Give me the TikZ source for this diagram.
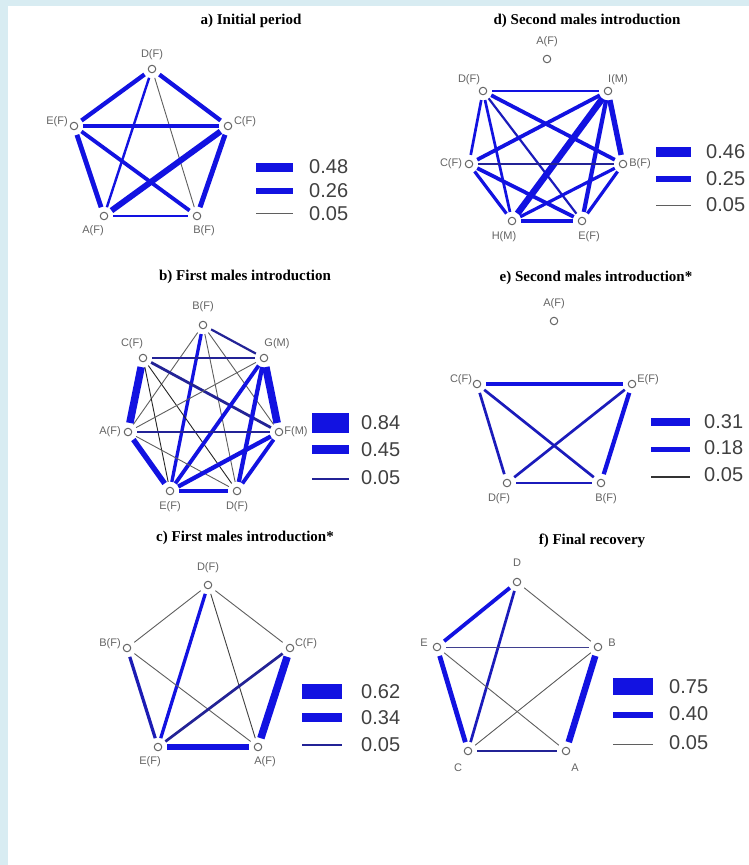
\documentclass[tikz,border=0pt]{standalone}
\usepackage{fontspec}
\setmainfont{Liberation Serif}
\setsansfont{Liberation Sans}
\definecolor{bgblue}{RGB}{216,236,242}
\definecolor{eblue}{RGB}{18,18,225}
\definecolor{navy}{RGB}{35,35,150}
\definecolor{tgray}{RGB}{95,95,95}
\definecolor{lgray}{RGB}{100,100,100}
\begin{document}
\begin{tikzpicture}[x=1pt,y=-1pt,
  vtx/.style={circle,draw=lgray,fill=white,line width=1pt,minimum size=7.5pt,inner sep=0pt},
  lab/.style={font=\sffamily\fontsize{11}{11}\selectfont,text=lgray,inner sep=0pt},
  ttl/.style={font=\bfseries\fontsize{15}{16}\selectfont,inner sep=0pt},
  num/.style={font=\sffamily\fontsize{20}{20}\selectfont,text=black!75,anchor=west,inner sep=0pt},
  ed/.style={draw=eblue,shorten >=5pt,shorten <=5pt},
  nv/.style={draw=navy,shorten >=5pt,shorten <=5pt},
  th/.style={draw=tgray,line width=0.9pt,shorten >=5pt,shorten <=5pt},
  bar/.style={fill=eblue,draw=none},
  thbar/.style={draw=tgray,line width=1pt},
  nvbar/.style={draw=navy,line width=1.8pt}]
\useasboundingbox (0,0) rectangle (749,865);
\fill[bgblue] (0,0) rectangle (749,865);
\fill[white] (8,6) rectangle (749,865);

% ===== a) Initial period =====
\node[ttl] (ta) at (251,21) {a) Initial period};
\node[vtx] (aD) at (152,69) {};
\node[vtx] (aE) at (74,126) {};
\node[vtx] (aC) at (228,126) {};
\node[vtx] (aA) at (104,216) {};
\node[vtx] (aB) at (197,216) {};
\node[lab] (laD) at (152,55) {D(F)};
\node[lab] (laE) at (57,122) {E(F)};
\node[lab] (laC) at (245,122) {C(F)};
\node[lab] (laA) at (93,231) {A(F)};
\node[lab] (laB) at (204,231) {B(F)};
\draw[ed,line width=4.3pt] (aD) -- (aE);
\draw[ed,line width=4.3pt] (aD) -- (aC);
\draw[ed,line width=2.4pt] (aD) -- (aA);
\draw[th] (aD) -- (aB);
\draw[ed,line width=4.3pt] (aE) -- (aC);
\draw[ed,line width=4.8pt] (aE) -- (aA);
\draw[ed,line width=3.8pt] (aE) -- (aB);
\draw[ed,line width=6pt] (aC) -- (aA);
\draw[ed,line width=5pt] (aC) -- (aB);
\draw[ed,line width=2.7pt] (aA) -- (aB);
\fill[bar] (256,162.5) rectangle (293,171.5);
\fill[bar] (256,188) rectangle (293,194);
\draw[thbar] (256,213) -- (293,213);
\node[num] (na1) at (309,167) {0.48};
\node[num] (na2) at (309,191) {0.26};
\node[num] (na3) at (309,214) {0.05};

% ===== b) First males introduction =====
\node[ttl] (tb) at (245,277) {b) First males introduction};
\node[vtx] (bB) at (203,325) {};
\node[vtx] (bC) at (143,358) {};
\node[vtx] (bG) at (264,358) {};
\node[vtx] (bA) at (128,432) {};
\node[vtx] (bF) at (279,432) {};
\node[vtx] (bE) at (170,491) {};
\node[vtx] (bD) at (237,491) {};
\node[lab] (lbB) at (203,307) {B(F)};
\node[lab] (lbC) at (132,344) {C(F)};
\node[lab] (lbG) at (277,344) {G(M)};
\node[lab] (lbA) at (110,432) {A(F)};
\node[lab] (lbF) at (296,432) {F(M)};
\node[lab] (lbE) at (170,507) {E(F)};
\node[lab] (lbD) at (237,507) {D(F)};
\draw[nv,line width=2.2pt] (bB) -- (bG);
\draw[ed,line width=3.3pt] (bB) -- (bE);
\draw[th] (bB) -- (bD);
\draw[th] (bB) -- (bA);
\draw[th] (bB) -- (bF);
\draw[nv,line width=2.2pt] (bC) -- (bG);
\draw[nv,line width=2.8pt] (bC) -- (bF);
\draw[ed,line width=7.5pt] (bC) -- (bA);
\draw[th,draw=black!85] (bC) -- (bE);
\draw[th,draw=black!85] (bC) -- (bD);
\draw[th] (bG) -- (bA);
\draw[ed,line width=3.8pt] (bG) -- (bE);
\draw[ed,line width=4.3pt] (bG) -- (bD);
\draw[ed,line width=7.5pt] (bG) -- (bF);
\draw[nv,line width=2.2pt] (bA) -- (bF);
\draw[ed,line width=5.4pt] (bA) -- (bE);
\draw[th] (bA) -- (bD);
\draw[ed,line width=4.3pt] (bF) -- (bE);
\draw[ed,line width=3.8pt] (bF) -- (bD);
\draw[ed,line width=3.2pt] (bE) -- (bD);
\fill[bar] (312,413) rectangle (349,433);
\fill[bar] (312,445) rectangle (349,454);
\draw[nvbar] (312,479) -- (349,479);
\node[num] (nb1) at (361,423) {0.84};
\node[num] (nb2) at (361,450) {0.45};
\node[num] (nb3) at (361,478) {0.05};

% ===== c) First males introduction* =====
\node[ttl] (tc) at (245,538) {c) First males introduction*};
\node[vtx] (cD) at (208,585) {};
\node[vtx] (cB) at (127,648) {};
\node[vtx] (cC) at (290,648) {};
\node[vtx] (cE) at (158,747) {};
\node[vtx] (cA) at (258,747) {};
\node[lab] (lcD) at (208,568) {D(F)};
\node[lab] (lcB) at (110,644) {B(F)};
\node[lab] (lcC) at (306,644) {C(F)};
\node[lab] (lcE) at (150,762) {E(F)};
\node[lab] (lcA) at (265,762) {A(F)};
\draw[th] (cD) -- (cB);
\draw[th] (cD) -- (cC);
\draw[ed,line width=3.3pt] (cD) -- (cE);
\draw[th,draw=black!75] (cD) -- (cA);
\draw[nv,draw=navy!60!eblue,line width=3.2pt] (cB) -- (cE);
\draw[th] (cB) -- (cA);
\draw[nv,line width=2.7pt] (cC) -- (cE);
\draw[ed,line width=7.5pt] (cC) -- (cA);
\draw[ed,line width=5.4pt] (cE) -- (cA);
\fill[bar] (302,684) rectangle (342,699);
\fill[bar] (302,713) rectangle (342,722);
\draw[nvbar] (302,745) -- (342,745);
\node[num] (nc1) at (361,692) {0.62};
\node[num] (nc2) at (361,718) {0.34};
\node[num] (nc3) at (361,745) {0.05};

% ===== d) Second males introduction =====
\node[ttl] (td) at (587,21) {d) Second males introduction};
\node[vtx] (dA) at (547,59) {};
\node[vtx] (dD) at (483,91) {};
\node[vtx] (dI) at (608,91) {};
\node[vtx] (dC) at (469,164) {};
\node[vtx] (dB) at (623,164) {};
\node[vtx] (dH) at (512,221) {};
\node[vtx] (dE) at (582,221) {};
\node[lab] (ldA) at (547,42) {A(F)};
\node[lab] (ldD) at (469,80) {D(F)};
\node[lab] (ldI) at (618,80) {I(M)};
\node[lab] (ldC) at (451,164) {C(F)};
\node[lab] (ldB) at (640,164) {B(F)};
\node[lab] (ldH) at (504,237) {H(M)};
\node[lab] (ldE) at (589,237) {E(F)};
\draw[ed,line width=2.7pt] (dD) -- (dI);
\draw[ed,line width=2.7pt] (dD) -- (dC);
\draw[ed,line width=2.7pt] (dD) -- (dH);
\draw[nv,draw=navy!50!eblue,line width=2.2pt] (dD) -- (dE);
\draw[ed,line width=3.8pt] (dD) -- (dB);
\draw[ed,line width=3.8pt] (dI) -- (dC);
\draw[ed,line width=6.5pt] (dI) -- (dH);
\draw[ed,line width=4.3pt] (dI) -- (dE);
\draw[ed,line width=5.4pt] (dI) -- (dB);
\draw[nv,line width=1.6pt] (dC) -- (dB);
\draw[ed,line width=3.2pt] (dC) -- (dH);
\draw[ed,line width=3.8pt] (dC) -- (dE);
\draw[ed,line width=3.2pt] (dH) -- (dE);
\draw[ed,line width=3.2pt] (dH) -- (dB);
\draw[ed,line width=3.2pt] (dE) -- (dB);
\fill[bar] (656,147) rectangle (691,157);
\fill[bar] (656,176) rectangle (691,182);
\draw[thbar] (656,205) -- (691,205);
\node[num] (nd1) at (706,152) {0.46};
\node[num] (nd2) at (706,179) {0.25};
\node[num] (nd3) at (706,205) {0.05};

% ===== e) Second males introduction* =====
\node[ttl] (te) at (596,278) {e) Second males introduction*};
\node[vtx] (eA) at (554,321) {};
\node[vtx] (eC) at (477,384) {};
\node[vtx] (eE) at (632,384) {};
\node[vtx] (eD) at (507,483) {};
\node[vtx] (eB) at (601,483) {};
\node[lab] (leA) at (554,304) {A(F)};
\node[lab] (leC) at (461,380) {C(F)};
\node[lab] (leE) at (648,380) {E(F)};
\node[lab] (leD) at (499,499) {D(F)};
\node[lab] (leB) at (606,499) {B(F)};
\draw[ed,line width=4.3pt] (eC) -- (eE);
\draw[nv,draw=navy!50!eblue,line width=2.7pt] (eC) -- (eD);
\draw[nv,draw=navy!50!eblue,line width=2.7pt] (eC) -- (eB);
\draw[nv,draw=navy!50!eblue,line width=2.7pt] (eE) -- (eD);
\draw[ed,line width=4.3pt] (eE) -- (eB);
\draw[nv,draw=navy!50!eblue,line width=2.7pt] (eD) -- (eB);
\fill[bar] (651,418) rectangle (690,426);
\fill[bar] (651,447) rectangle (690,452);
\draw[thbar,draw=black!80,line width=1.4pt] (651,477) -- (690,477);
\node[num] (ne1) at (704,422) {0.31};
\node[num] (ne2) at (704,448) {0.18};
\node[num] (ne3) at (704,475) {0.05};

% ===== f) Final recovery =====
\node[ttl] (tf) at (592,541) {f) Final recovery};
\node[vtx] (fD) at (517,582) {};
\node[vtx] (fE) at (437,647) {};
\node[vtx] (fB) at (598,647) {};
\node[vtx] (fC) at (468,751) {};
\node[vtx] (fA) at (566,751) {};
\node[lab] (lfD) at (517,563) {D};
\node[lab] (lfE) at (424,643) {E};
\node[lab] (lfB) at (612,643) {B};
\node[lab] (lfC) at (458,768) {C};
\node[lab] (lfA) at (575,768) {A};
\draw[ed,line width=3.8pt] (fD) -- (fE);
\draw[th] (fD) -- (fB);
\draw[nv,draw=navy!50!eblue,line width=2.7pt] (fD) -- (fC);
\draw[th,draw=navy!70!gray] (fE) -- (fB);
\draw[ed,line width=4.8pt] (fE) -- (fC);
\draw[th] (fE) -- (fA);
\draw[th] (fB) -- (fC);
\draw[ed,line width=6.5pt] (fB) -- (fA);
\draw[nv,line width=2.7pt] (fC) -- (fA);
\fill[bar] (613,678) rectangle (653,695);
\fill[bar] (613,712) rectangle (653,718);
\draw[thbar] (613,744) -- (653,744);
\node[num] (nf1) at (669,687) {0.75};
\node[num] (nf2) at (669,714) {0.40};
\node[num] (nf3) at (669,743) {0.05};
\end{tikzpicture}
\end{document}
